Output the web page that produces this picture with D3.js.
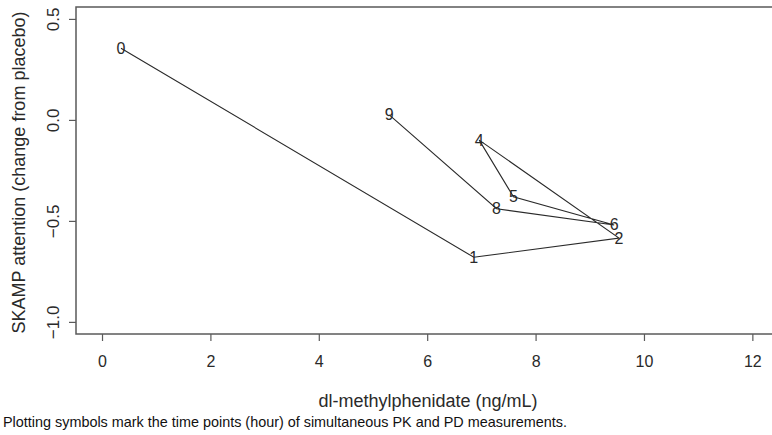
<!DOCTYPE html>
<html>
<head>
<meta charset="utf-8">
<script src="https://cdn.jsdelivr.net/npm/d3@7"></script>
<style>
  html, body { margin: 0; padding: 0; background: #fff; }
  svg { display: block; font-family: "Liberation Sans", Arial, Helvetica, sans-serif; }
</style>
</head>
<body>
<svg id="chart" width="772" height="435"></svg>
<script>
// Time points (hour) of simultaneous PK and PD measurements
const hours = ["0", "1", "2", "4", "5", "6", "8", "9"];
// dl-methylphenidate plasma concentration (ng/mL)
const concentration = [0.35, 6.86, 9.54, 6.96, 7.59, 9.45, 7.28, 5.30];
// SKAMP attention, change from placebo
const skamp = [0.355, -0.68, -0.585, -0.10, -0.38, -0.52, -0.44, 0.025];

const xTicks = [0, 2, 4, 6, 8, 10, 12];
const yTicks = [-1.0, -0.5, 0.0, 0.5];

const svg = d3.select("#chart");

const plot = { left: 76, top: 7, right: 780, bottom: 334 };

const x = d3.scaleLinear().domain([-0.48, 12.51]).range([plot.left, plot.right]);
const y = d3.scaleLinear().domain([0.559, -1.06]).range([plot.top, plot.bottom]);

const ink = "#2a2a2a";
const frame = "#5a5a5a";
const fontFamily = "Liberation Sans, Arial, sans-serif";

// plot frame
svg.append("rect")
  .attr("x", plot.left).attr("y", plot.top)
  .attr("width", plot.right - plot.left).attr("height", plot.bottom - plot.top)
  .attr("fill", "none").attr("stroke", frame).attr("stroke-width", 1.5);

// x axis
const xAxis = svg.append("g")
  .attr("transform", `translate(0,${plot.bottom})`)
  .call(d3.axisBottom(x).tickValues(xTicks).tickFormat(d3.format("d")).tickSize(7).tickSizeOuter(0).tickPadding(15));
xAxis.select(".domain").remove();
xAxis.selectAll(".tick line").attr("stroke", frame).attr("stroke-width", 1.2);
xAxis.selectAll(".tick text").attr("fill", ink).attr("font-size", 16).attr("font-family", fontFamily);

// y axis with rotated labels
const yAxis = svg.append("g")
  .attr("transform", `translate(${plot.left},0)`)
  .call(d3.axisLeft(y).tickValues(yTicks).tickFormat(d3.format(".1f")).tickSize(7).tickSizeOuter(0));
yAxis.select(".domain").remove();
yAxis.selectAll(".tick line").attr("stroke", frame).attr("stroke-width", 1.2);
yAxis.selectAll(".tick text")
  .attr("fill", ink).attr("font-size", 17).attr("font-family", fontFamily)
  .attr("x", null).attr("dy", null)
  .attr("text-anchor", "middle")
  .attr("dominant-baseline", "central")
  .attr("transform", "translate(-23,0) rotate(-90)");

// trajectory through the time points
const line = d3.line().x(i => x(concentration[i])).y(i => y(skamp[i]));
svg.append("path")
  .datum(d3.range(hours.length))
  .attr("d", line)
  .attr("fill", "none").attr("stroke", ink).attr("stroke-width", 1.1);

// hour labels as plotting symbols
svg.append("g").selectAll("text")
  .data(d3.range(hours.length))
  .join("text")
  .attr("x", i => x(concentration[i]))
  .attr("y", i => y(skamp[i]))
  .attr("text-anchor", "middle")
  .attr("dominant-baseline", "central")
  .attr("font-size", 16)
  .attr("fill", ink)
  .text(i => hours[i]);

// axis titles
svg.append("text")
  .attr("x", 428).attr("y", 401)
  .attr("text-anchor", "middle").attr("dominant-baseline", "central")
  .attr("font-size", 18).attr("fill", ink)
  .text("dl-methylphenidate (ng/mL)");

svg.append("text")
  .attr("transform", `translate(19,${(plot.top + plot.bottom) / 2 + 2}) rotate(-90)`)
  .attr("text-anchor", "middle").attr("dominant-baseline", "central")
  .attr("font-size", 18).attr("fill", ink)
  .text("SKAMP attention (change from placebo)");

// caption
svg.append("text")
  .attr("x", 3).attr("y", 422)
  .attr("dominant-baseline", "central")
  .attr("font-size", 14.4).attr("fill", "#111")
  .text("Plotting symbols mark the time points (hour) of simultaneous PK and PD measurements.");
</script>
</body>
</html>
